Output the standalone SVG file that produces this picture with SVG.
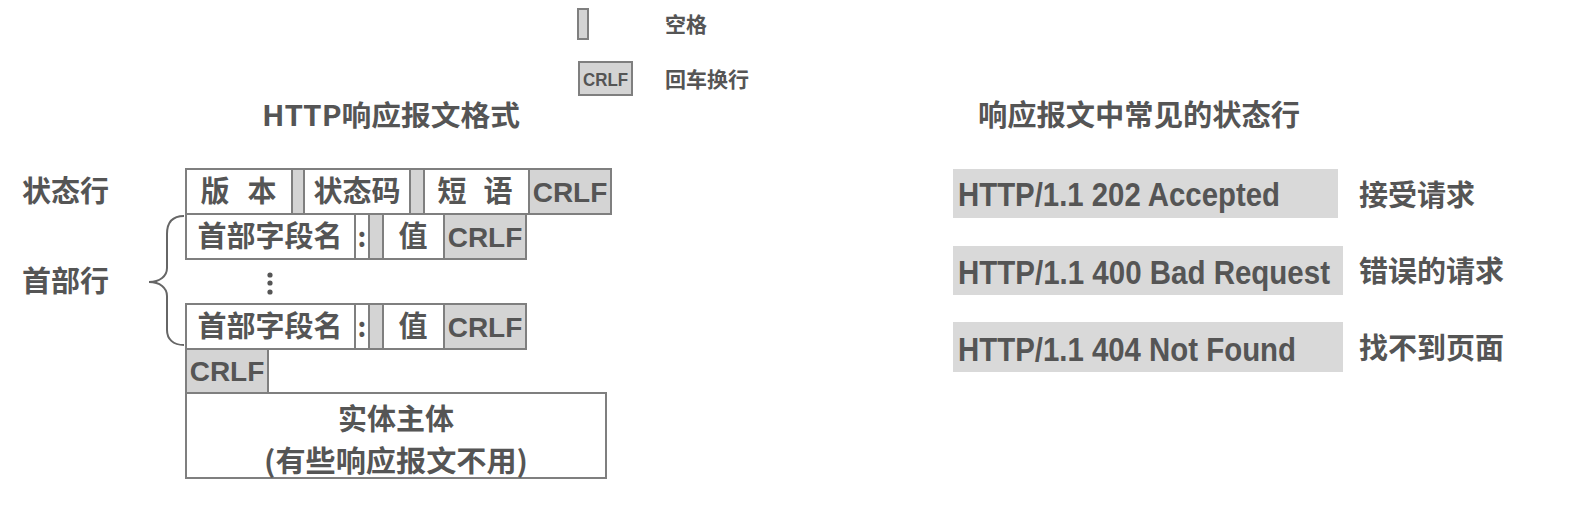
<svg xmlns="http://www.w3.org/2000/svg" width="1580" height="511" viewBox="0 0 1580 511">
<style>
.cell{fill:#ffffff;stroke:#7f7f7f;stroke-width:2}
.g{fill:#d4d4d4;stroke:#7f7f7f;stroke-width:2}
.bar{fill:#d9d9d9;stroke:none}
.cj{font-family:"Noto Sans CJK SC","Noto Sans",sans-serif;font-weight:bold;fill:#555555}
.la{font-family:"Liberation Sans",Arial,sans-serif;font-weight:bold;fill:#555555}
.m{text-anchor:middle}
</style>
<rect width="1580" height="511" fill="#ffffff"/>
<g id="legend">
<rect x="578" y="9" width="10" height="30" class="g" stroke-width="1.5"/>
<text x="665" y="32" class="cj" font-size="21">空格</text>
<rect x="579" y="62" width="53" height="33" class="g" stroke-width="1.5"/>
<text x="605.5" y="86" class="la m" font-size="19" textLength="45" lengthAdjust="spacingAndGlyphs">CRLF</text>
<text x="665" y="87" class="cj" font-size="21">回车换行</text>
</g>
<g id="titles">
<text x="391" y="126" class="cj m" font-size="28" textLength="258" lengthAdjust="spacingAndGlyphs">HTTP响应报文格式</text>
<text x="1139" y="126" class="cj m" font-size="29" textLength="322" lengthAdjust="spacingAndGlyphs">响应报文中常见的状态行</text>
</g>
<g id="labels">
<text x="22" y="202" class="cj" font-size="29">状态行</text>
<text x="22" y="292" class="cj" font-size="29">首部行</text>
</g>
<g id="status-line">
<rect x="186" y="169" width="106" height="45" class="cell"/>
<rect x="292" y="169" width="12" height="45" class="g"/>
<rect x="304" y="169" width="106" height="45" class="cell"/>
<rect x="410" y="169" width="14" height="45" class="g"/>
<rect x="424" y="169" width="105" height="45" class="cell"/>
<rect x="529" y="169" width="82" height="45" class="g"/>
<text x="215" y="202" class="cj m" font-size="29">版</text>
<text x="262" y="202" class="cj m" font-size="29">本</text>
<text x="357" y="202" class="cj m" font-size="29">状态码</text>
<text x="452" y="202" class="cj m" font-size="29">短</text>
<text x="498" y="202" class="cj m" font-size="29">语</text>
<text x="570" y="202" class="la m" font-size="28">CRLF</text>
</g>
<g id="header-line-1">
<rect x="186" y="214" width="169" height="45" class="cell"/>
<rect x="355" y="214" width="14" height="45" class="cell"/>
<rect x="369" y="214" width="14" height="45" class="g"/>
<rect x="383" y="214" width="61" height="45" class="cell"/>
<rect x="444" y="214" width="82" height="45" class="g"/>
<text x="270" y="247" class="cj m" font-size="29">首部字段名</text>
<text x="362" y="247" class="cj m" font-size="27">:</text>
<text x="413" y="247" class="cj m" font-size="29">值</text>
<text x="485" y="247" class="la m" font-size="28">CRLF</text>
</g>
<g id="ellipsis">
<circle cx="270" cy="275" r="2.6" fill="#555555"/>
<circle cx="270" cy="283" r="2.6" fill="#555555"/>
<circle cx="270" cy="292" r="2.6" fill="#555555"/>
</g>
<g id="header-line-2">
<rect x="186" y="304" width="169" height="45" class="cell"/>
<rect x="355" y="304" width="14" height="45" class="cell"/>
<rect x="369" y="304" width="14" height="45" class="g"/>
<rect x="383" y="304" width="61" height="45" class="cell"/>
<rect x="444" y="304" width="82" height="45" class="g"/>
<text x="270" y="337" class="cj m" font-size="29">首部字段名</text>
<text x="362" y="337" class="cj m" font-size="27">:</text>
<text x="413" y="337" class="cj m" font-size="29">值</text>
<text x="485" y="337" class="la m" font-size="28">CRLF</text>
</g>
<g id="blank-line">
<rect x="186" y="349" width="82" height="44" class="g"/>
<text x="227" y="381" class="la m" font-size="28">CRLF</text>
</g>
<g id="entity-body">
<rect x="186" y="393" width="420" height="85" class="cell"/>
<text x="396" y="430" class="cj m" font-size="29">实体主体</text>
<text x="396" y="472" class="cj m" font-size="29" textLength="264" lengthAdjust="spacingAndGlyphs">(有些响应报文不用)</text>
</g>
<g id="connectors">
<path d="M184,216 C173,216 167,222 167,234 L167,268 C167,276 160,282 149,282 C160,282 167,288 167,296 L167,330 C167,339 173,345 184,345" fill="none" stroke="#666666" stroke-width="2"/>
</g>
<g id="status-202">
<rect x="953" y="169" width="385" height="49" class="bar"/>
<text x="958" y="206" class="la" font-size="33" textLength="322" lengthAdjust="spacingAndGlyphs">HTTP/1.1 202 Accepted</text>
<text x="1359" y="206" class="cj" font-size="29">接受请求</text>
</g>
<g id="status-400">
<rect x="953" y="246" width="390" height="49" class="bar"/>
<text x="958" y="284" class="la" font-size="33" textLength="372" lengthAdjust="spacingAndGlyphs">HTTP/1.1 400 Bad Request</text>
<text x="1359" y="282" class="cj" font-size="29">错误的请求</text>
</g>
<g id="status-404">
<rect x="953" y="322" width="390" height="50" class="bar"/>
<text x="958" y="361" class="la" font-size="33" textLength="338" lengthAdjust="spacingAndGlyphs">HTTP/1.1 404 Not Found</text>
<text x="1359" y="359" class="cj" font-size="29">找不到页面</text>
</g>
</svg>
